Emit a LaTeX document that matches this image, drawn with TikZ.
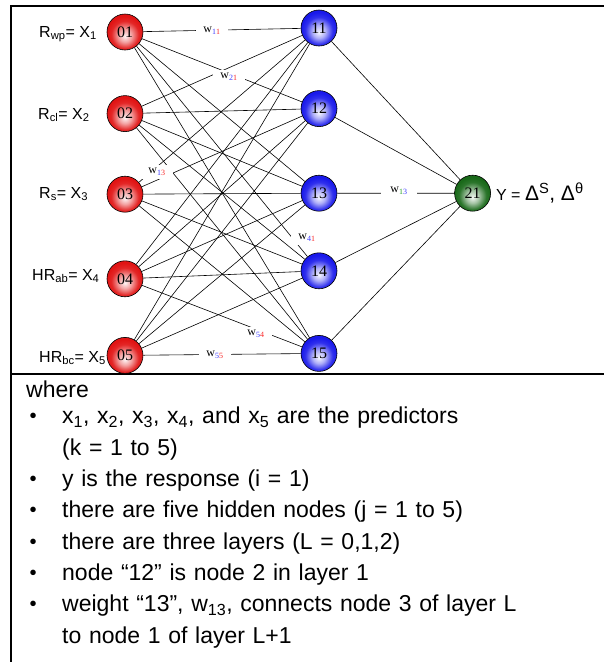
\documentclass[tikz,border=0pt]{standalone}
\usepackage{fontspec}
\setmainfont{Liberation Serif}
\setsansfont{Liberation Sans}
\usepackage{enumitem}
\usetikzlibrary{positioning}

\definecolor{ballred}{RGB}{225,20,20}
\definecolor{ballblue}{RGB}{25,25,235}
\definecolor{ballgreen}{RGB}{25,105,25}
\definecolor{subblue}{RGB}{60,60,255}
\definecolor{subred}{RGB}{250,40,40}
\definecolor{subgreen}{RGB}{40,160,40}
\pgfdeclareradialshading{redglow}{\pgfpoint{0bp}{-6bp}}{color(0bp)=(ballred!5!white);
  color(9bp)=(ballred!40!white); color(19bp)=(ballred!92!white); color(25bp)=(ballred); color(50bp)=(ballred)}
\pgfdeclareradialshading{blueglow}{\pgfpoint{0bp}{-6bp}}{color(0bp)=(ballblue!4!white);
  color(9bp)=(ballblue!35!white); color(19bp)=(ballblue!90!white); color(25bp)=(ballblue); color(50bp)=(ballblue)}
\pgfdeclareradialshading{greenglow}{\pgfpoint{0bp}{-6bp}}{color(0bp)=(ballgreen!5!white);
  color(9bp)=(ballgreen!40!white); color(19bp)=(ballgreen!92!white); color(25bp)=(ballgreen); color(50bp)=(ballgreen)}
\newcommand{\wsub}[4]{w\textsubscript{\textcolor{#1}{#2}\textcolor{#3}{#4}}}

\begin{document}
\begin{tikzpicture}[
  x=1pt, y=-1pt,
  neuron/.style={circle,draw=black,line width=0.6pt,minimum size=36pt,inner sep=0pt,
                 font=\fontsize{16}{16}\selectfont},
  inp/.style={neuron,shading=redglow},
  hid/.style={neuron,shading=blueglow},
  outp/.style={neuron,shading=greenglow},
  xlab/.style={font=\sffamily\fontsize{16}{16}\selectfont,inner sep=0pt},
  wlab/.style={fill=white,inner xsep=7pt,inner ysep=3pt,font=\fontsize{12}{12}\selectfont},
  link/.style={line width=0.6pt},
  frame/.style={line width=2pt}
]
\useasboundingbox (0,0) rectangle (604,662);

% table rules
\draw[frame] (11,6) -- (604,6);
\draw[frame] (11,374) -- (604,374);
\draw[frame] (11,5) -- (11,662);

% input layer
\node[inp] (in1) at (125,32) {01};
\node[inp,below=45pt of in1] (in2) {02};
\node[inp,below=44pt of in2] (in3) {03};
\node[inp,below=48pt of in3] (in4) {04};
\node[inp,below=40pt of in4] (in5) {05};

% hidden layer
\node[hid] (h11) at (319,28) {11};
\node[hid,below=44pt of h11] (h12) {12};
\node[hid,below=48pt of h12] (h13) {13};
\node[hid,below=41pt of h13] (h14) {14};
\node[hid,below=46pt of h14] (h15) {15};

% output layer
\node[outp,right=117pt of h13] (out21) {21};
\node[font=\sffamily,inner sep=0pt,right=5pt of out21] (ylab)
      {{\fontsize{16}{16}\selectfont Y = }{\fontsize{21}{21}\selectfont Δ\textsuperscript{S}, Δ\textsuperscript{θ}}};

% predictors
\node[xlab,anchor=base west] (lab1) at (39,37) {R\textsubscript{wp}= X\textsubscript{1}};
\node[xlab,anchor=base west] (lab2) at (38,119) {R\textsubscript{cl}= X\textsubscript{2}};
\node[xlab,anchor=base west] (lab3) at (39,198) {R\textsubscript{s}= X\textsubscript{3}};
\node[xlab,anchor=base west] (lab4) at (32,280) {HR\textsubscript{ab}= X\textsubscript{4}};
\node[xlab,anchor=base west] (lab5) at (39,362) {HR\textsubscript{bc}= X\textsubscript{5}};

% connections
\draw[link] (in1) -- (h11) (in1) -- (h12) (in1) -- (h13) (in1) -- (h14) (in1) -- (h15);
\draw[link] (in2) -- (h11) (in2) -- (h12) (in2) -- (h13) (in2) -- (h14) (in2) -- (h15);
\draw[link] (in3) -- (h11) (in3) -- (h12) (in3) -- (h13) (in3) -- (h14) (in3) -- (h15);
\draw[link] (in4) -- (h11) (in4) -- (h12) (in4) -- (h13) (in4) -- (h14) (in4) -- (h15);
\draw[link] (in5) -- (h11) (in5) -- (h12) (in5) -- (h13) (in5) -- (h14) (in5) -- (h15);
\draw[link] (h11) -- (out21) (h12) -- (out21) (h13) -- (out21) (h14) -- (out21) (h15) -- (out21);

% weights
\node[wlab] (w11) at (212,31) {\wsub{subblue}{1}{subred}{1}};
\node[wlab] (w21) at (229,77) {\wsub{subblue}{2}{subred}{1}};
\node[wlab] (w13a) at (157,172) {\wsub{subblue}{1}{subred}{3}};
\node[wlab,inner xsep=9pt] (w13b) at (399,191) {\wsub{subgreen}{1}{subblue}{3}};
\node[wlab] (w41) at (307,238) {\wsub{subblue}{4}{subred}{1}};
\node[wlab] (w54) at (256,334) {\wsub{subblue}{5}{subred}{4}};
\node[wlab] (w55) at (215,355) {\wsub{subblue}{5}{subred}{5}};

% notes
\node[font=\sffamily\fontsize{23}{23}\selectfont,anchor=base west,inner sep=0pt] (where) at (26,397) {where};
\node[font=\sffamily\fontsize{23}{31.3}\selectfont,inner sep=0pt,text width=570pt,
      below=-5pt of where.south west,anchor=north west] (notes) {%
\begin{itemize}[leftmargin=36pt,labelindent=3pt,labelwidth=10pt,labelsep=23pt,
                itemindent=0pt,align=left,itemsep=0pt,parsep=0pt,topsep=0pt,partopsep=0pt]
\item x\textsubscript{1}, x\textsubscript{2}, x\textsubscript{3}, x\textsubscript{4}, and x\textsubscript{5} are the predictors\newline (k = 1 to 5)
\item y is the response (i = 1)
\item there are five hidden nodes (j = 1 to 5)
\item there are three layers (L = 0,1,2)
\item node “12” is node 2 in layer 1
\item weight “13”, w\textsubscript{13}, connects node 3 of layer L\newline to node 1 of layer L+1
\end{itemize}};
\end{tikzpicture}
\end{document}
